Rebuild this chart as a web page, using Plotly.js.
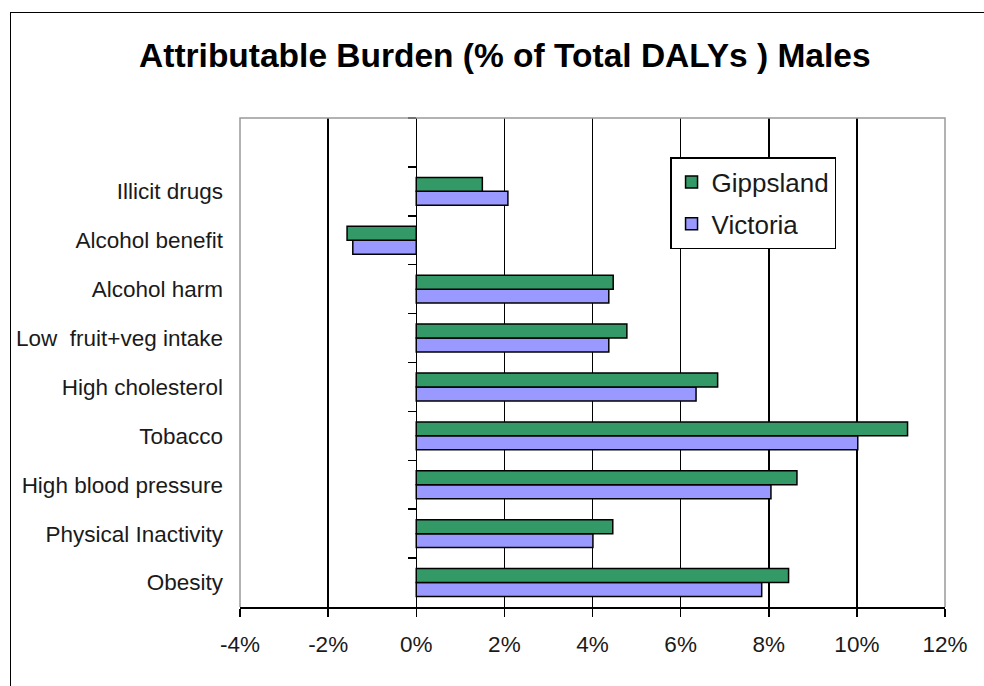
<!DOCTYPE html>
<html>
<head>
<meta charset="utf-8">
<script src="https://cdn.plot.ly/plotly-3.0.1.min.js"></script>
<style>
  html, body { margin: 0; padding: 0; background: #fff; }
  #wrap { position: relative; width: 984px; height: 686px; }
  #chart { position: absolute; left: 0; top: 0; width: 984px; height: 686px; }
  #frame { position: absolute; left: 10px; top: 12px; width: 990px; height: 700px;
           border-left: 1.5px solid #000; border-top: 1.5px solid #000; pointer-events: none; }
</style>
</head>
<body>
<div id="wrap">
  <div id="chart"></div>
  <div id="frame"></div>
</div>
<script>
// Risk factors, bottom to top
const riskFactors = [
  'Obesity',
  'Physical Inactivity',
  'High blood pressure',
  'Tobacco',
  'High cholesterol',
  'Low\u00a0 fruit+veg intake',
  'Alcohol harm',
  'Alcohol benefit',
  'Illicit drugs'
];

// Attributable burden, % of total DALYs (males)
const gippsland = [8.45, 4.46, 8.64, 11.15, 6.84, 4.78, 4.47, -1.57, 1.50];
const victoria  = [7.84, 4.01, 8.05, 10.02, 6.35, 4.37, 4.37, -1.44, 2.08];

const xTickVals = [-4, -2, 0, 2, 4, 6, 8, 10, 12];
const xTickText = ['-4%', '-2%', '0%', '2%', '4%', '6%', '8%', '10%', '12%'];

const FONT = '"Liberation Sans", Arial, sans-serif';
const GREEN = '#339966';
const LILAC = '#9999FF';

// boundary ticks for the category axis drawn on the zero line
const catTicks = [];
for (let i = 0.5; i <= riskFactors.length + 0.5; i += 1) catTicks.push(i);

const traces = [
  {
    type: 'bar', orientation: 'h', name: 'Victoria',
    y: riskFactors, x: victoria, legendgroup: 'v', legendrank: 2,
    marker: { color: LILAC, line: { color: '#000', width: 1.5 } },
    hoverinfo: 'x+y'
  },
  {
    type: 'bar', orientation: 'h', name: 'Gippsland',
    y: riskFactors, x: gippsland, legendgroup: 'g', legendrank: 1,
    marker: { color: GREEN, line: { color: '#000', width: 1.5 } },
    hoverinfo: 'x+y'
  }
];

const layout = {
  width: 984, height: 686,
  margin: { l: 240, r: 39, t: 118, b: 79 },
  paper_bgcolor: 'rgba(0,0,0,0)',
  plot_bgcolor: '#fff',
  font: { family: FONT, size: 22, color: '#1a1a1a' },
  barmode: 'group',
  bargap: 0.43,
  bargroupgap: 0,
  title: {
    text: 'Attributable Burden (% of Total DALYs ) Males',
    font: { family: FONT, size: 33.5, color: '#000', weight: 'bold' },
    x: 0.513, xanchor: 'center', xref: 'container',
    y: 0.92, yanchor: 'middle'
  },
  xaxis: {
    range: [-4, 12],
    tickvals: xTickVals, ticktext: xTickText,
    ticks: 'outside', ticklen: 8, tickwidth: 1.5, tickcolor: '#000',
    ticklabelstandoff: 8,
    showgrid: true, gridcolor: '#000', gridwidth: 1.5,
    zeroline: true, zerolinecolor: '#000', zerolinewidth: 1.5,
    showline: true, linecolor: '#000', linewidth: 1.5,
    tickfont: { family: FONT, size: 22.5, color: '#1a1a1a' },
    fixedrange: true
  },
  yaxis: {
    type: 'category',
    categoryorder: 'array', categoryarray: riskFactors,
    range: [-0.5, riskFactors.length + 0.5],
    ticks: '', showgrid: false, zeroline: false, showline: false,
    ticklabelstandoff: 16,
    tickfont: { family: FONT, size: 22.5, color: '#1a1a1a' },
    fixedrange: true
  },
  yaxis2: {
    overlaying: 'y', anchor: 'free', position: 0.25, side: 'left',
    range: [-0.5, riskFactors.length + 0.5],
    tickvals: catTicks, ticks: 'outside', ticklen: 8, tickwidth: 1.5, tickcolor: '#000',
    showticklabels: false, showgrid: false, zeroline: false, showline: false,
    fixedrange: true
  },
  legend: {
    x: 0.61, y: 0.92, xanchor: 'left', yanchor: 'top',
    traceorder: 'grouped', tracegroupgap: 5,
    bgcolor: '#fff', bordercolor: '#000', borderwidth: 1.5,
    font: { family: FONT, size: 26, color: '#1a1a1a' }
  },
  shapes: [
    // plot frame: left, top and right edges
    { type: 'path', xref: 'paper', yref: 'paper', layer: 'above',
      path: 'M 0 0 L 0 1 L 1 1 L 1 0',
      line: { color: '#999', width: 1.5 } }
  ],
  showlegend: true
};

// invisible trace to attach the boundary tick axis
traces.push({
  type: 'scatter', x: [0], y: [0], yaxis: 'y2', mode: 'markers',
  marker: { opacity: 0 }, showlegend: false, hoverinfo: 'skip'
});

Plotly.newPlot('chart', traces, layout, { staticPlot: true, displayModeBar: false });
</script>
</body>
</html>
